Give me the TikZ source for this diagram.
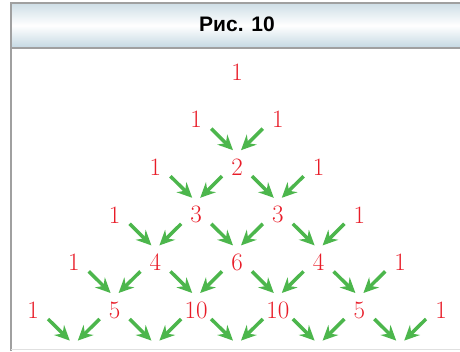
\documentclass[tikz,border=0pt]{standalone}
\usepackage{fontspec}
\newfontfamily\hdfont{Liberation Sans}
\usetikzlibrary{arrows.meta}
\definecolor{numred}{RGB}{232,28,40}
\definecolor{arrgreen}{RGB}{76,182,76}
\definecolor{framegray}{RGB}{160,160,160}
\definecolor{hdtop}{RGB}{206,222,230}
\definecolor{hdbot}{RGB}{196,216,226}
\tikzset{
  num/.style={text=numred, inner sep=0pt, font=\fontsize{25}{25}\selectfont},
  arr/.style={draw=arrgreen, line width=3.5pt,
    -{Stealth[length=15pt,width=14pt,inset=5pt]}},
  frame/.style={draw=framegray, line width=1.2pt}
}
\begin{document}
\begin{tikzpicture}[x=1pt, y=-1pt]
  \useasboundingbox (0,0) rectangle (460,351);
  % header band
  \shade[top color=hdtop, bottom color=hdbot, middle color=white]
    (11,3) rectangle (460,48);
  \draw[frame] (460,3) -- (11,3) -- (11,351);
  \draw[frame] (11,48) -- (460,48);
  \draw[draw=black!12, line width=1pt] (11,349.5) -- (460,349.5);
  \node[font=\hdfont\bfseries\fontsize{21}{21}\selectfont] (title) at (237,24) {Рис. 10};
  % the numbers of the triangle
  \foreach \r/\vals in {0/{1}, 1/{1,1}, 2/{1,2,1}, 3/{1,3,3,1},
                        4/{1,4,6,4,1}, 5/{1,5,10,10,5,1}} {
    \foreach \v [count=\i from 0] in \vals {
      \node[num] (n-\r-\i) at ({237+40.8*(2*\i-\r)}, {72+47.6*\r}) {\v};
    }
  }
  % targets below the last row
  \foreach \i in {1,...,5} {
    \coordinate (c-\i) at ({237+40.8*(2*\i-6)}, {72+47.6*6});
  }
  % arrows into each inner number
  \foreach \r in {1,...,4} {
    \foreach \i in {1,...,\r} {
      \pgfmathtruncatemacro{\j}{\i-1}
      \pgfmathtruncatemacro{\s}{\r+1}
      \draw[arr] ([shift={(15,9)}]n-\r-\j.center) -- ([shift={(-4,-17)}]n-\s-\i.center);
      \draw[arr] ([shift={(-15,9)}]n-\r-\i.center) -- ([shift={(4,-17)}]n-\s-\i.center);
    }
  }
  \foreach \i in {1,...,5} {
    \pgfmathtruncatemacro{\j}{\i-1}
    \draw[arr] ([shift={(15,9)}]n-5-\j.center) -- ([shift={(-4,-17)}]c-\i);
    \draw[arr] ([shift={(-15,9)}]n-5-\i.center) -- ([shift={(4,-17)}]c-\i);
  }
\end{tikzpicture}
\end{document}
